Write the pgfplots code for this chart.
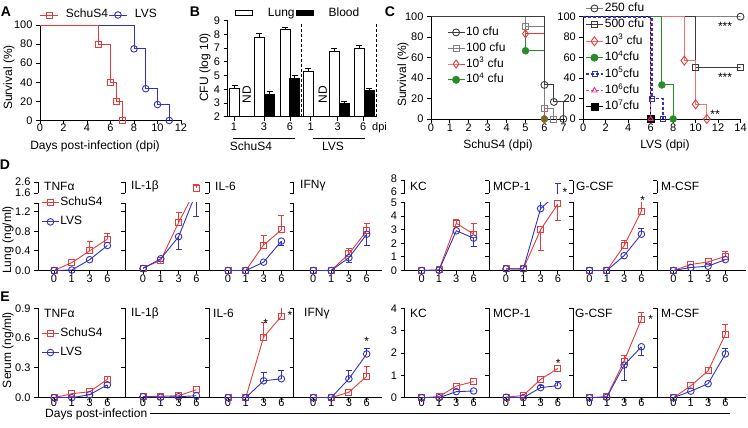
\documentclass[border=0pt]{standalone}
\usepackage{pgfplots}
\pgfplotsset{compat=1.18}
\usepackage{fontspec}
\setmainfont{Liberation Sans}
\usetikzlibrary{plotmarks}

\definecolor{cR}{RGB}{228,60,60}
\definecolor{cB}{RGB}{50,50,190}
\definecolor{cG}{RGB}{40,140,40}
\definecolor{cGr}{RGB}{128,128,128}
\definecolor{cDk}{RGB}{60,60,60}
\definecolor{cPk}{RGB}{242,112,112}
\definecolor{cMg}{RGB}{228,60,150}

\newcommand{\tf}{\fontsize{11}{12}\selectfont}
\newcommand{\lf}{\fontsize{12}{14}\selectfont}

\pgfplotsset{
  prism/.style={
    scale only axis, anchor=south west,
    axis x line*=bottom, axis y line*=left,
    tick align=outside, major tick length=4pt,
    every tick/.style={black, line width=0.9pt},
    axis line style={black, line width=0.9pt},
    tick label style={font=\tf},
    /pgf/number format/assume math mode=true,
    clip mode=individual,
    legend cell align=left,
    legend style={draw=none, fill=none, font=\lf, inner sep=0pt, outer sep=0pt,
      nodes={inner sep=1pt, text height=8.5pt, text depth=2.5pt}},
  },
  dec/.style={yticklabel style={/pgf/number format/.cd, fixed, fixed zerofill, precision=1}},
  days/.style={xtick={0,1,2,3}, xticklabels={0,1,3,6}},
  nolab/.style={yticklabels={}, extra y tick labels={}},
  schu/.style={cR, line width=0.9pt, mark=square, mark size=3pt, mark options={solid}},
  lvs/.style={cB, line width=0.9pt, mark=o, mark size=3.3pt, mark options={solid}},
  ebu/.style={draw=none, mark=none, forget plot,
    error bars/y dir=plus, error bars/y explicit,
    error bars/error bar style={draw=#1, line width=0.9pt, solid},
    error bars/error mark options={rotate=90, draw=#1, line width=0.9pt, mark size=3pt}},
  ebd/.style={draw=none, mark=none, forget plot,
    error bars/y dir=minus, error bars/y explicit,
    error bars/error bar style={draw=#1, line width=0.9pt, solid},
    error bars/error mark options={rotate=90, draw=#1, line width=0.9pt, mark size=3pt}},
  Dlo/.style={prism, dec, days, height=67.5pt, ymin=0, ymax=1.378, ytick={0,0.4,0.8,1.2},
    extra y ticks={1.378}, extra y tick labels={}, xticklabel style={yshift=3.5pt}},
  Dup/.style={prism, dec, height=11pt, ymin=1.6, ymax=2.6, ytick={1.6,2.6}, axis x line=none},
  DRlo/.style={prism, days, height=68pt, ymin=0, ymax=5, ytick={0,...,5}, xticklabel style={yshift=3.5pt}},
  DRup/.style={prism, height=12.6pt, ymin=6, ymax=8, ytick={6,8}, axis x line=none,
    yticklabel style={yshift=1.5pt}},
  Elo/.style={prism, dec, days, height=89.4pt, ymin=0, ymax=0.9, ytick={0,0.3,0.6,0.9},
    xticklabel style={yshift=6pt}},
  ERlo/.style={prism, days, height=89.4pt, ymin=0, ymax=4, ytick={0,...,4},
    xticklabel style={yshift=6pt}},
  L1/.style={at={(38pt,#1)}, width=87pt, xmin=-0.899, xmax=3.989},
  L2/.style={at={(125pt,#1)}, width=84pt, xmin=-1.011, xmax=3.708},
  L3/.style={at={(209pt,#1)}, width=84.5pt, xmin=-1.067, xmax=3.680},
  L4/.style={at={(293.5pt,#1)}, width=88.5pt, xmin=-1.112, xmax=3.860},
  R1/.style={at={(404.5pt,#1)}, width=84.5pt, xmin=-0.994, xmax=3.890},
  R2/.style={at={(489pt,#1)}, width=84pt, xmin=-0.983, xmax=3.872},
  R3/.style={at={(573pt,#1)}, width=84pt, xmin=-0.954, xmax=3.901},
  R4/.style={at={(657pt,#1)}, width=89pt, xmin=-0.954, xmax=4.191},
  cline/.style={line width=0.9pt, const plot mark left, forget plot, mark=none},
}

\begin{document}
\begin{tikzpicture}
\useasboundingbox (0,0) rectangle (748pt,428pt);

% ================= A =================
\begin{axis}[prism, at={(40pt,307.5pt)}, width=141pt, height=95.5pt,
  xmin=0, xmax=12, ymin=0, ymax=100, xtick={0,2,...,12}, ytick={0,20,...,100},
  xticklabel style={yshift=4pt},
  legend columns=2,
  legend style={at={(axis description cs:0.0,1.105)}, anchor=west,
    /tikz/every odd column/.append style={column sep=7pt}}]
\addlegendimage{schu}\addlegendentry{SchuS4}
\addlegendimage{lvs}\addlegendentry{LVS}
\addplot[lvs, cline] coordinates {(0,100)(8,75)(9,33.3)(10,16.7)(11,0)};
\addplot[lvs, only marks, forget plot] coordinates {(8,75)(9,33.3)(10,16.7)(11,0)};
\addplot[schu, cline] coordinates {(0,100)(5,80)(6,40)(6.5,20)(7,0)};
\addplot[schu, only marks, forget plot] coordinates {(5,80)(6,40)(6.5,20)(7,0)};
\end{axis}

% ================= B =================
\begin{axis}[prism, at={(227.5pt,311.3pt)}, width=149.5pt, height=96pt,
  xmin=227.5, xmax=377, ymin=2, ymax=9, ytick={2,...,9},
  xticklabel style={yshift=1pt},
  xtick={234,264,290,310.7,337.7,363.3}, xticklabels={1,3,6,1,3,6},
  legend columns=2,
  legend style={at={(axis description cs:0.05,1.08)}, anchor=west,
    /tikz/every odd column/.append style={column sep=14pt}}]
\addlegendimage{area legend, fill=white, draw=black, line width=0.9pt}\addlegendentry{Lung}
\addlegendimage{area legend, fill=black, draw=black, line width=0.9pt}\addlegendentry{Blood}
\addplot[ybar, bar width=10, bar shift=0pt, fill=white, draw=black, line width=0.9pt, forget plot]
  coordinates {(234.5,4.05)(259,7.79)(285,8.34)(308.3,5.32)(334.3,6.77)(359.3,6.96)};
\addplot[ybar, bar width=10, bar shift=0pt, fill=black, draw=black, line width=0.9pt, forget plot]
  coordinates {(269.5,3.62)(294.7,4.76)(344.3,2.94)(369.3,3.9)};
\addplot[ebu=black] coordinates {(234.5,4.05)+-(0,0.22) (259,7.79)+-(0,0.3) (285,8.34)+-(0,0.18)
  (308.3,5.32)+-(0,0.22) (334.3,6.77)+-(0,0.22) (359.3,6.96)+-(0,0.27)
  (269.5,3.62)+-(0,0.22) (294.7,4.76)+-(0,0.25) (344.3,2.94)+-(0,0.15) (369.3,3.9)+-(0,0.17)};
\addplot[black, line width=0.9pt, dash pattern=on 3pt off 2pt, forget plot] coordinates {(301.7,2)(301.7,8.8)};
\addplot[black, line width=0.9pt, dash pattern=on 3pt off 2pt, forget plot] coordinates {(376,2)(376,8.8)};
\end{axis}

% ================= C left =================
\begin{axis}[prism, at={(431pt,309pt)}, width=134.2pt, height=102.3pt,
  xmin=0, xmax=7.1, ymin=0, ymax=100, xtick={0,...,7}, ytick={0,20,...,100},
  xticklabel style={yshift=3pt},
  legend style={at={(axis description cs:0.12,0.91)}, anchor=north west, row sep=2.8pt}]
\addlegendimage{cDk, line width=0.9pt, mark=o, mark size=3.5pt}\addlegendentry{10 cfu}
\addlegendimage{cGr, line width=0.9pt, mark=square, mark size=3pt}\addlegendentry{100 cfu}
\addlegendimage{cR, line width=0.9pt, mark=diamond, mark size=4pt}\addlegendentry{10\textsuperscript{3} cfu}
\addlegendimage{cG, line width=0.9pt, mark=*, mark size=3.5pt}\addlegendentry{10\textsuperscript{4} cfu}
\addplot[cG, cline] coordinates {(0,100)(5,66.7)(6,0)};
\addplot[cR, cline] coordinates {(0,100)(5,83.3)(6,0)};
\addplot[cGr, cline] coordinates {(0,100)(5,90)(6,10)(6.5,0)};
\addplot[cDk, cline] coordinates {(0,100)(6,33.3)(6.5,16.7)(7,0)};
\addplot[cG, only marks, mark=*, mark size=3.5pt, forget plot] coordinates {(5,66.7)(6,0)};
\addplot[cR, only marks, mark=diamond, mark size=4pt, line width=0.9pt, forget plot] coordinates {(5,83.3)(6,0)};
\addplot[cGr, only marks, mark=square, mark size=3pt, line width=0.9pt, forget plot] coordinates {(5,90)(6,10)(6.5,0)};
\addplot[cDk, only marks, mark=o, mark size=3.5pt, line width=0.9pt, forget plot] coordinates {(6,33.3)(6.5,16.7)(7,0)};
\end{axis}

% ================= C right =================
\begin{axis}[prism, at={(583.3pt,309pt)}, width=157.2pt, height=102.3pt,
  xmin=0, xmax=14, ymin=0, ymax=100, xtick={0,2,...,14}, ytick={0,20,...,100},
  xticklabel style={yshift=3pt},
  legend style={at={(axis description cs:0.011,1.144)}, anchor=north west, row sep=3.4pt}]
\addlegendimage{cGr, line width=0.9pt, mark=o, mark size=3.5pt, mark options={draw=cDk}}\addlegendentry{250 cfu}
\addlegendimage{cDk, line width=0.9pt, mark=square, mark size=3pt}\addlegendentry{500 cfu}
\addlegendimage{cPk, line width=0.9pt, mark=diamond, mark size=4.5pt, mark options={draw=cR}}\addlegendentry{10\textsuperscript{3} cfu}
\addlegendimage{cG, line width=0.9pt, mark=*, mark size=3.5pt}\addlegendentry{10\textsuperscript{4}cfu}
\addlegendimage{cB, line width=1.8pt, dash pattern=on 3pt off 2pt, mark=square, mark size=2.5pt, mark options={solid, line width=0.9pt}}\addlegendentry{10\textsuperscript{5}cfu}
\addlegendimage{cMg, line width=1.5pt, dash pattern=on 3pt off 2pt, mark=triangle, mark size=3pt, mark options={solid, line width=0.9pt}}\addlegendentry{10\textsuperscript{6}cfu}
\addlegendimage{black, line width=0.9pt, mark=square*, mark size=3.5pt}\addlegendentry{10\textsuperscript{7}cfu}
\addplot[cGr, cline] coordinates {(0,100)(14,100)};
\addplot[cDk, cline] coordinates {(0,100)(10,50)(14,50)};
\addplot[cPk, cline] coordinates {(0,100)(9,57.1)(10,14.3)(11,0)};
\addplot[cG, cline] coordinates {(0,100)(7,33.3)(8,0)};
\addplot[black, cline] coordinates {(0,100)(6,0)};
\addplot[cMg, cline, line width=1.5pt, dash pattern=on 3pt off 2pt] coordinates {(0,100)(6,0)};
\addplot[cB, cline, line width=1.8pt, dash pattern=on 3pt off 2pt] coordinates {(0,100)(6.1,20)(7.1,0)};
\addplot[cDk, only marks, mark=o, mark size=3.5pt, line width=0.9pt, forget plot] coordinates {(14,100)};
\addplot[cDk, only marks, mark=square, mark size=3pt, line width=0.9pt, forget plot] coordinates {(10,50)(14,50)};
\addplot[cR, only marks, mark=diamond, mark size=4.5pt, line width=0.9pt, forget plot] coordinates {(9,57.1)(10,14.3)(11,0)};
\addplot[cG, only marks, mark=*, mark size=3.5pt, forget plot] coordinates {(7,33.3)(8,0)};
\addplot[black, only marks, mark=square*, mark size=3.5pt, forget plot] coordinates {(6,0)};
\addplot[cMg, only marks, mark=triangle, mark size=3pt, line width=0.9pt, forget plot] coordinates {(6,0)};
\addplot[cB, only marks, mark=square, mark size=2.5pt, line width=0.9pt, forget plot] coordinates {(6.1,20)(7.1,0)};
\end{axis}

% ================= D (lung) =================
\begin{axis}[Dlo, L1=157.5pt,
  legend style={at={(axis description cs:0.04,1.104)}, anchor=north west, row sep=6.4pt}]
\addlegendimage{schu}\addlegendentry{SchuS4}
\addlegendimage{lvs}\addlegendentry{LVS}
\addplot[schu, forget plot] coordinates {(0,0)(1,0.16)(2,0.40)(3,0.64)};
\addplot[ebu=cR] coordinates {(2,0.40)+-(0,0.19) (3,0.64)+-(0,0.11)};
\addplot[lvs, forget plot] coordinates {(0,0)(1,0.01)(2,0.22)(3,0.51)};
\end{axis}
\begin{axis}[Dup, L1=235pt]\end{axis}

\begin{axis}[Dlo, nolab, L2=157.5pt]
% day-6 SchuS4 point lies above the axis break; 1.68 is its height on the lower scale
\addplot[schu, mark=none, forget plot] coordinates {(0,0.05)(1,0.21)(2,0.98)(3,1.68)};
\addplot[schu, only marks, forget plot] coordinates {(0,0.05)(1,0.21)(2,0.98)};
\addplot[ebu=cR] coordinates {(2,0.98)+-(0,0.2)};
\addplot[lvs, forget plot] coordinates {(0,0.04)(1,0.24)(2,0.69)(3,1.6)};
\addplot[ebd=cB] coordinates {(2,0.69)+-(0,0.26) (3,1.6)+-(0,0.5)};
\end{axis}
\begin{axis}[Dup, nolab, L2=235pt]
\addplot[schu, only marks, forget plot] coordinates {(3,2.03)};
\addplot[ebu=cR] coordinates {(3,2.03)+-(0,0.39)};
\end{axis}

\begin{axis}[Dlo, nolab, L3=157.5pt]
\addplot[schu, forget plot] coordinates {(0,0)(1,0)(2,0.52)(3,0.83)};
\addplot[ebu=cR] coordinates {(2,0.52)+-(0,0.2) (3,0.83)+-(0,0.29)};
\addplot[lvs, forget plot] coordinates {(0,0)(1,0)(2,0.17)(3,0.60)};
\addplot[ebd=cB] coordinates {(3,0.60)+-(0,0.08)};
\end{axis}
\begin{axis}[Dup, nolab, L3=235pt]\end{axis}

\begin{axis}[Dlo, nolab, L4=157.5pt]
\addplot[schu, forget plot] coordinates {(0,0)(1,0)(2,0.34)(3,0.81)};
\addplot[ebu=cR] coordinates {(2,0.34)+-(0,0.12) (3,0.81)+-(0,0.15)};
\addplot[lvs, forget plot] coordinates {(0,0)(1,0)(2,0.26)(3,0.74)};
\addplot[ebd=cB] coordinates {(2,0.26)+-(0,0.1) (3,0.74)+-(0,0.22)};
\end{axis}
\begin{axis}[Dup, nolab, L4=235pt]\end{axis}

\begin{axis}[DRlo, R1=157.5pt]
\addplot[schu, forget plot] coordinates {(0,0)(1,0.05)(2,3.47)(3,2.67)};
\addplot[ebu=cR] coordinates {(2,3.47)+-(0,0.32) (3,2.67)+-(0,0.8)};
\addplot[lvs, forget plot] coordinates {(0,0)(1,0.02)(2,2.92)(3,2.38)};
\addplot[ebd=cB] coordinates {(3,2.38)+-(0,0.6)};
\end{axis}
\begin{axis}[DRup, R1=234.7pt]\end{axis}

\begin{axis}[DRlo, nolab, R2=157.5pt]
\addplot[schu, forget plot] coordinates {(0,0.12)(1,0.12)(2,3.0)(3,4.9)};
\addplot[ebd=cR] coordinates {(2,3.0)+-(0,1.55) (3,4.9)+-(0,1.2)};
% day-6 LVS point lies above the axis break; 5.69 is its height on the lower scale
\addplot[lvs, mark=none, forget plot] coordinates {(0,0.12)(1,0.12)(2,4.55)(3,5.69)};
\addplot[lvs, only marks, forget plot] coordinates {(0,0.12)(1,0.12)(2,4.55)};
\addplot[ebu=cB] coordinates {(2,4.55)+-(0,1.38)};
\end{axis}
\begin{axis}[DRup, nolab, R2=234.7pt]
\addplot[lvs, only marks, forget plot] coordinates {(3,5.95)};
\addplot[ebu=cB] coordinates {(3,5.95)+-(0,1.65)};
\end{axis}

\begin{axis}[DRlo, nolab, R3=157.5pt]
\addplot[schu, forget plot] coordinates {(0,0)(1,0)(2,1.82)(3,4.37)};
\addplot[ebu=cR] coordinates {(2,1.82)+-(0,0.36) (3,4.37)+-(0,0.68)};
\addplot[lvs, forget plot] coordinates {(0,0)(1,0)(2,1.09)(3,2.67)};
\addplot[ebu=cB] coordinates {(3,2.67)+-(0,0.39)};
\end{axis}
\begin{axis}[DRup, nolab, R3=234.7pt]\end{axis}

\begin{axis}[DRlo, nolab, R4=157.5pt]
\addplot[schu, forget plot] coordinates {(0,0)(1,0.44)(2,0.63)(3,1.04)};
\addplot[ebu=cR] coordinates {(3,1.04)+-(0,0.37)};
\addplot[lvs, forget plot] coordinates {(0,0)(1,0.22)(2,0.32)(3,0.8)};
\end{axis}
\begin{axis}[DRup, nolab, R4=234.7pt]\end{axis}

% ================= E (serum) =================
\begin{axis}[Elo, L1=30.3pt,
  legend style={at={(axis description cs:0.04,0.79)}, anchor=north west, row sep=6pt}]
\addlegendimage{schu}\addlegendentry{SchuS4}
\addlegendimage{lvs}\addlegendentry{LVS}
\addplot[schu, forget plot] coordinates {(0,0)(1,0.04)(2,0.06)(3,0.185)};
\addplot[ebu=cR] coordinates {(3,0.185)+-(0,0.03)};
\addplot[lvs, forget plot] coordinates {(0,0)(1,0)(2,0.03)(3,0.13)};
\addplot[ebd=cB] coordinates {(3,0.13)+-(0,0.03)};
\end{axis}
\begin{axis}[Elo, nolab, L2=30.3pt]
\addplot[schu, forget plot] coordinates {(0,0.01)(1,0.015)(2,0.02)(3,0.08)};
\addplot[lvs, forget plot] coordinates {(0,0.01)(1,0.005)(2,0.01)(3,0.02)};
\end{axis}
\begin{axis}[Elo, nolab, L3=30.3pt]
\addplot[schu, forget plot] coordinates {(0,0)(1,0)(2,0.61)(3,0.82)};
\addplot[ebu=cR] coordinates {(2,0.61)+-(0,0.15) (3,0.82)+-(0,0.09)};
\addplot[lvs, forget plot] coordinates {(0,0)(1,0)(2,0.17)(3,0.19)};
\addplot[ebu=cB] coordinates {(2,0.17)+-(0,0.08) (3,0.19)+-(0,0.08)};
\end{axis}
\begin{axis}[Elo, nolab, L4=30.3pt]
\addplot[schu, forget plot] coordinates {(0,0)(1,0)(2,0.055)(3,0.215)};
\addplot[ebu=cR] coordinates {(3,0.215)+-(0,0.1)};
\addplot[lvs, forget plot] coordinates {(0,0)(1,0)(2,0.19)(3,0.44)};
\addplot[ebu=cB] coordinates {(2,0.19)+-(0,0.08) (3,0.44)+-(0,0.06)};
\end{axis}
\begin{axis}[ERlo, R1=30.3pt]
\addplot[schu, forget plot] coordinates {(0,0)(1,0.05)(2,0.52)(3,0.72)};
\addplot[lvs, forget plot] coordinates {(0,0)(1,0)(2,0.27)(3,0.3)};
\end{axis}
\begin{axis}[ERlo, nolab, R2=30.3pt]
\addplot[schu, forget plot] coordinates {(0,0.02)(1,0.1)(2,0.82)(3,1.31)};
\addplot[lvs, forget plot] coordinates {(0,0.02)(1,0)(2,0.45)(3,0.54)};
\addplot[ebu=cB] coordinates {(2,0.45)+-(0,0.1) (3,0.54)+-(0,0.18)};
\end{axis}
\begin{axis}[ERlo, nolab, R3=30.3pt]
\addplot[schu, forget plot] coordinates {(0,0)(1,0.05)(2,1.64)(3,3.51)};
\addplot[ebu=cR] coordinates {(2,1.64)+-(0,0.27) (3,3.51)+-(0,0.31)};
\addplot[lvs, forget plot] coordinates {(0,0)(1,0.02)(2,1.46)(3,2.28)};
\addplot[ebd=cB] coordinates {(2,1.46)+-(0,0.71) (3,2.28)+-(0,0.37)};
\end{axis}
\begin{axis}[ERlo, nolab, R4=30.3pt, ymax=3, ytick={0,...,3}]
\addplot[schu, forget plot] coordinates {(0,0)(1,0.40)(2,0.90)(3,2.13)};
\addplot[ebu=cR] coordinates {(2,0.90)+-(0,0.12) (3,2.13)+-(0,0.32)};
\addplot[lvs, forget plot] coordinates {(0,0)(1,0.22)(2,0.47)(3,1.47)};
\addplot[ebu=cB] coordinates {(3,1.47)+-(0,0.19)};
\end{axis}

% ================= text =================
\begin{scope}[every node/.style={font=\lf, inner sep=0pt}]
\node[font=\fontsize{14}{16}\bfseries] at (6pt,416pt) {A};
\node[font=\fontsize{14}{16}\bfseries] at (195pt,416pt) {B};
\node[font=\fontsize{14}{16}\bfseries] at (390pt,416pt) {C};
\node[font=\fontsize{14}{16}\bfseries] at (5pt,263pt) {D};
\node[font=\fontsize{14}{16}\bfseries] at (5pt,131pt) {E};
\node[rotate=90] at (9pt,350.5pt) {Survival (\%)};
\node[rotate=90] at (205pt,360.5pt) {CFU (log 10)};
\node[rotate=90] at (403pt,353.5pt) {Survival (\%)};
\node[rotate=90] at (8pt,188pt) {Lung (ng/ml)};
\node[rotate=90] at (8pt,78pt) {Serum (ng/ml)};
\node at (95pt,282pt) {Days post-infection (dpi)};
\node at (498pt,283pt) {SchuS4 (dpi)};
\node at (665pt,283pt) {LVS (dpi)};
\node[anchor=west, font=\tf] at (372pt,300.5pt) {dpi};
\node[rotate=90] at (246.7pt,333pt) {ND};
\node[rotate=90] at (322.7pt,333pt) {ND};
\draw[line width=0.9pt] (233pt,290pt) -- (295pt,290pt);
\draw[line width=0.9pt] (313pt,290pt) -- (365pt,290pt);
\node at (251pt,282pt) {SchuS4};
\node at (333pt,282pt) {LVS};
\node at (725pt,402pt) {***};
\node at (725pt,351pt) {***};
\node at (715pt,313.5pt) {**};
% D titles
\node[anchor=west] at (44pt,242pt) {TNFα};
\node[anchor=west] at (131pt,242pt) {IL-1β};
\node[anchor=west] at (215pt,242pt) {IL-6};
\node[anchor=west] at (300pt,242pt) {IFNγ};
\node[anchor=west] at (410pt,242pt) {KC};
\node[anchor=west] at (493pt,242pt) {MCP-1};
\node[anchor=west] at (576pt,242pt) {G-CSF};
\node[anchor=west] at (661pt,242pt) {M-CSF};
\node at (565pt,236pt) {*};
\node at (642.7pt,228pt) {*};
% E titles
\node[anchor=west] at (44pt,114.5pt) {TNFα};
\node[anchor=west] at (131pt,114.5pt) {IL-1β};
\node[anchor=west] at (213pt,114.5pt) {IL-6};
\node[anchor=west] at (304pt,114.5pt) {IFNγ};
\node[anchor=west] at (410pt,114.5pt) {KC};
\node[anchor=west] at (493pt,114.5pt) {MCP-1};
\node[anchor=west] at (575pt,114.5pt) {G-CSF};
\node[anchor=west] at (661pt,114.5pt) {M-CSF};
\node at (265.7pt,105pt) {*};
\node at (290pt,113pt) {*};
\node at (366.7pt,87pt) {*};
\node at (558.3pt,65pt) {*};
\node at (650.7pt,108.5pt) {*};
\node[anchor=west] at (45pt,13.5pt) {Days post-infection};
\draw[line width=0.9pt] (150pt,15pt) -- (730pt,15pt);
\end{scope}
\end{tikzpicture}
\end{document}
